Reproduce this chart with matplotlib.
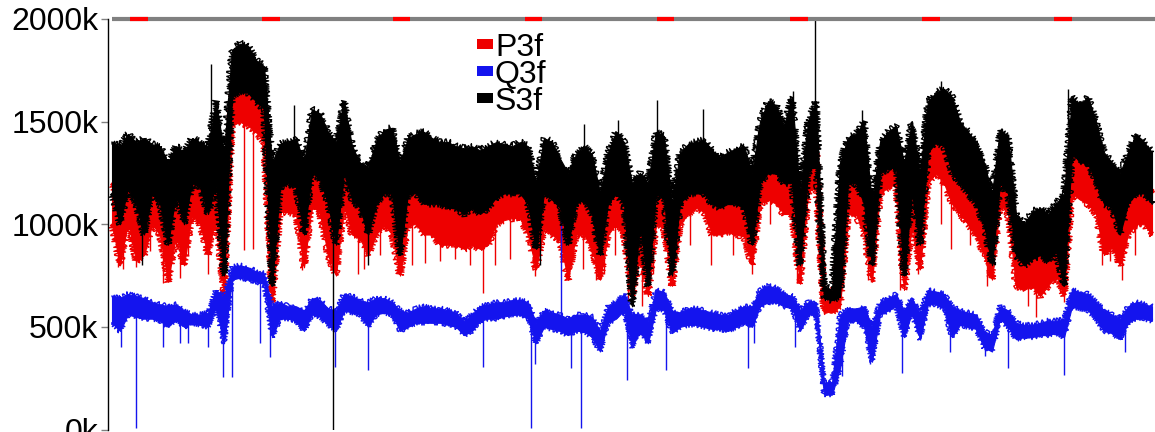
import numpy as np
import matplotlib
matplotlib.use("Agg")
import matplotlib.pyplot as plt
from matplotlib.patches import Rectangle

plt.rcParams['font.family'] = ['Liberation Sans', 'DejaVu Sans']

# ---------------- data (values in k) ----------------
series_names = ['P3f', 'Q3f', 'S3f']
series_colors = ['#ee0000', '#1414ee', '#000000']

s3f_hi = [1400,1380,1440,1400,1420,1390,1380,1300,1380,1350,
          1420,1400,1380,1600,1350,1850,1880,1870,1800,1770,
          1300,1390,1400,1420,1300,1560,1540,1450,1400,1600,
          1380,1300,1280,1400,1460,1470,1300,1420,1440,1450,
          1420,1400,1400,1380,1370,1380,1360,1380,1400,1390,
          1380,1400,1380,1200,1420,1400,1320,1250,1340,1380,
          1340,1150,1350,1450,1400,1200,1250,1200,1450,1430,
          1100,1350,1390,1400,1410,1360,1330,1350,1370,1380,
          1250,1500,1600,1580,1480,1620,1150,1500,1600,700,
          680,1300,1420,1440,1500,1100,1400,1450,1480,1300,
          1500,1250,1600,1640,1660,1620,1500,1450,1400,1300,
          1150,1460,1430,1050,1000,1060,1080,1050,1100,1150,
          1620,1580,1620,1500,1350,1300,1250,1350,1440,1400,1350]
s3f_lo = [1150,1000,1180,1100,950,1150,1100,900,1150,1000,
          1200,1180,1050,1200,750,1620,1650,1640,1600,1560,
          700,1180,1200,1180,950,1250,1220,1100,900,1250,
          1120,1080,950,1100,1150,1150,850,1150,1150,1100,
          1100,1100,1080,1080,1050,1080,1050,1080,1130,1150,
          1150,1150,1100,880,1150,1120,1080,900,1100,1120,
          1050,850,1100,1150,1100,600,1000,700,1150,1120,
          750,1100,1150,1150,1150,1100,1080,1100,1100,1080,
          900,1200,1250,1250,1200,1200,800,1250,1300,640,
          630,650,1200,1200,1100,800,1250,1270,1280,750,
          1150,900,1350,1400,1380,1250,1200,1150,1100,1000,
          800,1200,1150,850,800,830,850,820,870,700,
          1350,1300,1300,1200,1100,1080,950,1100,1150,1150,1100]
p3f_hi = [1200,1100,1230,1150,1100,1200,1150,1000,1180,1100,
          1250,1200,1100,1250,900,1650,1660,1640,1620,1580,
          800,1200,1220,1200,1000,1300,1280,1200,1000,1350,
          1150,1100,1050,1150,1200,1200,950,1200,1200,1180,
          1150,1150,1130,1120,1100,1120,1100,1120,1180,1200,
          1200,1200,1150,950,1180,1150,1120,950,1150,1150,
          1100,950,1150,1200,1150,900,1050,900,1200,1180,
          900,1180,1230,1250,1240,1150,1120,1130,1130,1120,
          1000,1300,1350,1350,1300,1300,900,1350,1400,630,
          620,900,1280,1280,1200,900,1300,1320,1330,900,
          1250,1000,1420,1450,1430,1350,1300,1250,1200,1050,
          900,1300,1250,900,850,880,880,880,950,850,
          1400,1350,1380,1280,1150,1120,1050,1150,1220,1200,1150]
p3f_lo = [1000,800,1020,820,850,1000,950,720,950,800,
          1050,1000,850,1050,650,1480,1500,1480,1450,1400,
          620,1060,1060,1050,790,1100,1050,850,750,1100,
          950,930,850,950,1000,950,750,1000,1000,950,
          950,900,900,900,880,900,880,900,1000,1020,
          1030,1030,950,780,980,950,920,730,950,950,
          880,730,950,1000,950,650,850,650,1000,980,
          700,1000,1050,1080,1060,950,950,960,950,940,
          800,1100,1120,1100,1050,1050,710,1150,1200,575,
          570,600,1050,1050,950,720,1150,1180,1200,680,
          1000,780,1200,1250,1200,1100,1050,1000,950,850,
          730,1100,1050,700,680,700,650,700,750,650,
          1150,1120,1100,1050,850,900,800,950,1000,1000,950]
q3f_hi = [650,640,660,650,640,620,610,600,610,580,
          560,560,570,680,640,790,800,790,770,760,
          600,620,600,600,580,640,630,590,580,660,
          650,630,620,640,640,620,580,570,590,600,
          590,590,580,570,530,560,600,610,620,620,
          630,630,620,520,580,570,560,540,560,560,
          550,480,600,620,660,560,560,530,680,670,
          580,570,590,590,580,570,560,560,580,600,
          600,680,700,690,660,650,580,620,620,230,
          230,560,590,590,600,500,620,640,660,580,
          640,560,680,670,660,600,580,570,560,480,
          460,600,580,520,510,510,520,530,530,540,
          680,670,660,620,580,560,540,600,620,610,600]
q3f_lo = [520,480,560,550,540,540,530,500,540,500,
          520,510,500,600,420,730,740,730,720,710,
          450,540,540,530,480,560,550,510,480,580,
          570,560,500,560,570,560,480,500,520,520,
          520,520,510,500,460,480,530,540,540,550,
          560,560,540,420,500,490,480,460,480,480,
          450,380,520,540,580,400,480,420,590,580,
          470,500,510,510,500,490,490,480,500,520,
          500,600,620,620,600,590,480,560,560,170,
          170,300,530,530,500,330,560,580,600,450,
          570,440,610,610,590,450,510,500,490,400,
          380,540,500,440,450,450,460,460,470,450,
          600,590,580,540,480,470,440,520,540,540,530]

# isolated spikes: (position in sample units, extreme value in k)
p3f_spike_pos = [0.75,1.4,3.0,4.75,6.4,7.25,8.5,9.5,12,16.5,17.6,23.75,27.25,30.75,31.5,
                 33.5,35.75,37.5,39.1,41,42.9,44.75,46.4,47.9,49.75,52.9,57,58.9,60.5,61.5,
                 62.9,64.5,66.25,67.6,69.75,72.25,74.9,77.6,80,82.25,85.6,91.4,94.5,98.5,
                 100.75,103.6,104.9,107.25,109.4,114.5,115.5,119,123.75,124.75,126.25,127.9]
p3f_spike_val = [790,780,790,870,713,730,740,850,760,875,880,778,800,760,780,
                 850,780,800,810,820,830,800,665,800,830,750,730,780,730,760,
                 850,620,600,760,700,900,800,850,760,1000,713,700,730,680,
                 760,1000,880,900,700,600,550,620,800,820,730,850]
q3f_spike_pos = [1.1,3.0,6.4,8.5,9.5,12,13.9,15,18.5,19.75,27.9,32,46.4,52.4,52.9,56.1,57.4,
                 58.6,60.75,64.4,69.25,79.5,80.25,85.4,91.25,94.75,98.75,101,104.75,109.1,
                 112,119,126.6]
q3f_spike_val = [400,5,400,420,420,400,256,256,420,354,305,290,305,5,320,1030,300,
                 5,400,240,290,300,420,400,260,320,275,436,380,360,
                 300,266,380]
s3f_spike_pos = [3.75,12.4,22.75,27.6,32,53.5,59,63.25,68.1,73.9,85.1,87.9,93.75,103.6,119.5]
s3f_spike_val = [800,1780,1583,0,800,800,1490,1510,1607,1560,1650,2000,1558,1700,1660]

# day markers along the top line (sample units)
day_starts = [2.25, 18.75, 35.1, 51.6, 68.1, 84.75, 101.25, 117.75]
day_len = 2.2

y_ticks = [0, 500, 1000, 1500, 2000]
y_tick_labels = ['0k', '500k', '1000k', '1500k', '2000k']

# ---------------- figure ----------------
W, H = 1155, 432
fig = plt.figure(figsize=(W / 100, H / 100), dpi=100)
ax = fig.add_axes([108 / W, (H - 429.5) / H, 1 - 108 / W, (429.5 - 19) / H])

n = len(s3f_hi)
t = np.arange(n)

def draw_series(hi, lo, sp_pos, sp_val, color, z, scale):
    hi = np.asarray(hi, float)
    lo = np.asarray(lo, float)
    ax.fill_between(t, lo, hi, facecolor=color, edgecolor=color, lw=0.8, zorder=z)
    # noisy-looking envelope edges (sketch line style)
    for edge in (hi, lo):
        ln, = ax.plot(t, edge, color=color, lw=1.0, zorder=z)
        ln.set_sketch_params(scale=scale, length=1.2, randomness=2)
    idx = np.clip(np.round(sp_pos).astype(int), 0, n - 1)
    base = (hi[idx] + lo[idx]) / 2.0
    ax.vlines(sp_pos, sp_val, base, colors=color, lw=1.0, zorder=z)

draw_series(p3f_hi, p3f_lo, np.array(p3f_spike_pos), np.array(p3f_spike_val), series_colors[0], 2, 3.5)
draw_series(q3f_hi, q3f_lo, np.array(q3f_spike_pos), np.array(q3f_spike_val), series_colors[1], 3, 2.5)
draw_series(s3f_hi, s3f_lo, np.array(s3f_spike_pos), np.array(s3f_spike_val), series_colors[2], 4, 3.5)

ax.set_xlim(-0.5, (1155 - 112) / 8)
ax.set_ylim(0, 2000)

# top grey line with red day markers
ax.hlines(2000, 0, (1155 - 112) / 8, colors='#808080', lw=3, clip_on=False, zorder=6)
ax.hlines([2000] * len(day_starts), day_starts, np.array(day_starts) + day_len,
          colors='#ff0000', lw=3, clip_on=False, zorder=7)

for s in ['top', 'right', 'bottom']:
    ax.spines[s].set_visible(False)
ax.spines['left'].set_color('#000000')
ax.spines['left'].set_linewidth(1.0)
ax.set_xticks([])
ax.set_yticks(y_ticks)
ax.set_yticklabels(y_tick_labels)
ax.tick_params(axis='y', direction='out', length=5, width=1, color='#808080',
               labelsize=23, pad=2, labelcolor='#000000')

# legend (manual)
for k, (name, col) in enumerate(zip(series_names, series_colors)):
    base_y = 55.5 + 27.3 * k
    fig.add_artist(Rectangle((477 / W, 1 - (base_y - 7) / H), 16 / W, 10 / H,
                             transform=fig.transFigure, facecolor=col, edgecolor='none'))
    fig.text(495 / W, 1 - base_y / H, name, fontsize=23, va='baseline', ha='left', color='#000000')

fig.savefig('out.png', dpi=100)
